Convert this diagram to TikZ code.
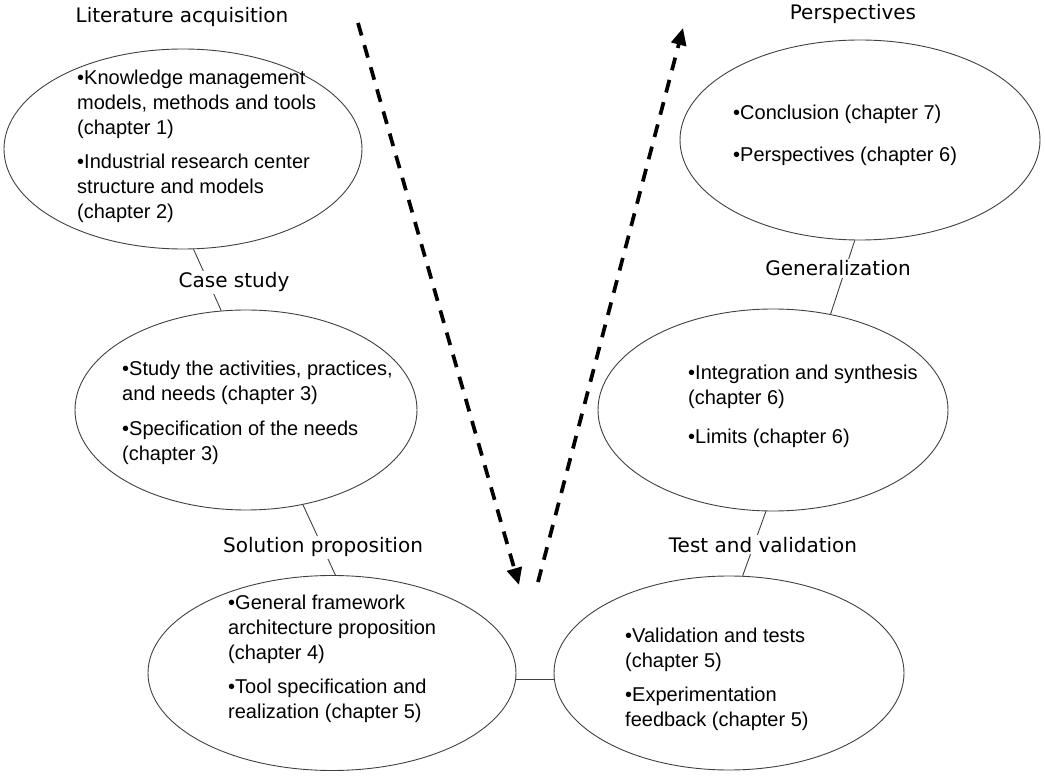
\documentclass[tikz,border=0pt]{standalone}
\usepackage{fontspec}
\setmainfont{Liberation Sans}
\newfontfamily\headfont{DejaVu Sans}
\usetikzlibrary{arrows.meta,shapes.geometric}
\pgfdeclarelayer{bg}
\pgfsetlayers{bg,main}
\newcommand{\bodylines}[1]{\begin{tabular}[t]{@{}l@{}}#1\end{tabular}}
\begin{document}
\begin{tikzpicture}[x=1pt,y=-1pt,
  phase/.style={ellipse,draw=black!75,line width=0.9pt,inner sep=0pt},
  body/.style={anchor=base west,inner sep=0pt,font=\fontsize{20}{25}\selectfont},
  stage/.style={anchor=base,fill=white,inner sep=2pt,font=\headfont\fontsize{20}{24}\selectfont},
  link/.style={draw=black!75,line width=0.9pt},
  flow/.style={line width=3.7pt,dash pattern=on 13pt off 10pt,-{Triangle[length=17pt,width=15pt]}}]
\useasboundingbox (0,0) rectangle (1045,783);

% phase ellipses
\node[phase,minimum width=358pt,minimum height=200pt] (lit)  at (183,149) {};
\node[phase,minimum width=342pt,minimum height=200pt] (case) at (246,410) {};
\node[phase,minimum width=368pt,minimum height=195pt] (sol)  at (332,673) {};
\node[phase,minimum width=350pt,minimum height=194pt] (test) at (729,673) {};
\node[phase,minimum width=350pt,minimum height=202pt] (gen)  at (773,410) {};
\node[phase,minimum width=360pt,minimum height=200pt] (per)  at (860,140) {};

% contents of each phase
\node[body] (litT) at (77,85) {\bodylines{%
  •Knowledge management\\ models, methods and tools\\ (chapter 1)\\[9pt]
  •Industrial research center\\ structure and models\\ (chapter 2)}};
\node[body] (caseT) at (122,376) {\bodylines{%
  •Study the activities, practices,\\ and needs (chapter 3)\\[10pt]
  •Specification of the needs\\ (chapter 3)}};
\node[body] (solT) at (228,609) {\bodylines{%
  •General framework\\ architecture proposition\\ (chapter 4)\\[9pt]
  •Tool specification and\\ realization (chapter 5)}};
\node[body] (testT) at (625,642) {\bodylines{%
  •Validation and tests\\ (chapter 5)\\[9pt]
  •Experimentation\\ feedback (chapter 5)}};
\node[body] (genT) at (688,380) {\bodylines{%
  •Integration and synthesis\\ (chapter 6)\\[14pt]
  •Limits (chapter 6)}};
\node[body] (perT) at (733,120) {\bodylines{%
  •Conclusion (chapter 7)\\[17pt]
  •Perspectives (chapter 6)}};

% phase titles
\node[stage] (tlit)  at (182,23)  {Literature acquisition};
\node[stage] (tcase) at (234,288) {Case study};
\node[stage] (tsol)  at (323,553) {Solution proposition};
\node[stage] (ttest) at (763,552) {Test and validation};
\node[stage] (tgen)  at (838,276) {Generalization};
\node[stage] (tper)  at (853,20)  {Perspectives};

% links between consecutive phases, running behind the titles
\begin{pgfonlayer}{bg}
  \draw[link] (lit.-84) -- (case.104);
  \draw[link] (case.-59) -- (sol.88);
  \draw[link] (sol.-2) -- (sol.-2 -| test.west);
  \draw[link] (gen.-94) -- (test.82);
  \draw[link] (per.-93) -- (gen.59);
\end{pgfonlayer}

% the V-shaped course of the work
\coordinate (downA) at (358,23);
\coordinate (downB) at (519,585);
\coordinate (upA)   at (538,582);
\coordinate (upB)   at (683,28);
\draw[flow] (downA) -- (downB);
\draw[flow] (upA) -- (upB);
\end{tikzpicture}
\end{document}
